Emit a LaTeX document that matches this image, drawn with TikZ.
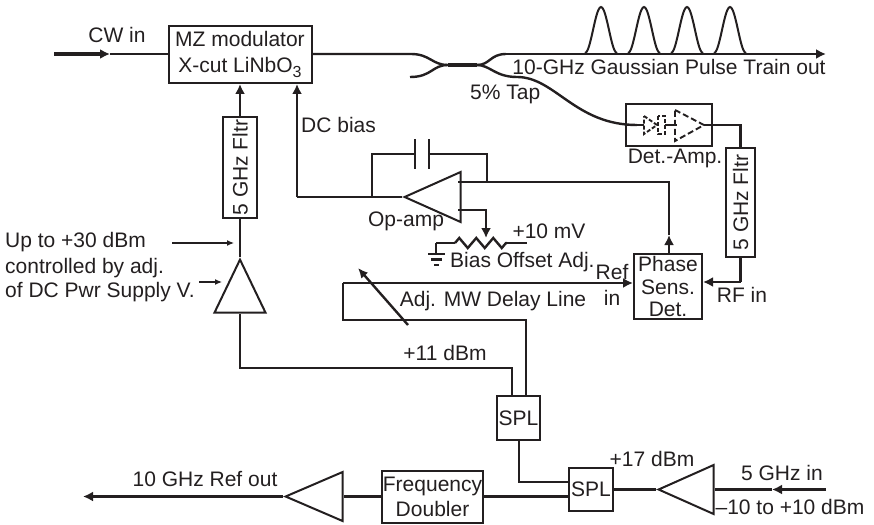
\documentclass[tikz,border=0pt]{standalone}
\usepackage{fontspec}
\setmainfont{Liberation Sans}
\usetikzlibrary{arrows.meta,shapes.geometric,decorations.pathmorphing}
\definecolor{ink}{HTML}{231F20}
\tikzset{
  wire/.style={ink,line width=2.4pt},
  thinwire/.style={ink,line width=1.2pt,-{Latex[length=7pt,width=6pt]}},
  tipwire/.style={wire,-{Latex[length=10pt,width=10pt]}},
  boldwire/.style={wire,line width=3.4pt},
  dashwire/.style={wire,line width=1.9pt,dash pattern=on 4pt off 2pt},
  label/.style={ink,inner sep=0pt,font=\fontsize{21}{22.5}\selectfont,align=center},
  boxnode/.style={label,draw=ink,line width=2pt,fill=white},
  ampnode/.style={draw=ink,line width=2pt,inner sep=0pt,isosceles triangle,isosceles triangle stretches}
}
\begin{document}
\begin{tikzpicture}[x=1pt,y=-1pt]
\useasboundingbox (0,0) rectangle (874,524);

\foreach \peak in {601,644,687,730}
  \draw[wire,line width=2pt] plot[smooth,samples=25,domain=\peak-16:\peak+16] (\x,{53-46*cos(90*(\x-\peak)/16)*cos(90*(\x-\peak)/16)});

\node[boxnode,minimum width=143pt,minimum height=57pt] (mz) at (240,54.5) {MZ modulator\\[3pt]X-cut LiNbO\raisebox{-5pt}{\fontsize{16}{16}\selectfont 3}};
\node[boxnode,rotate=90,minimum width=101pt,minimum height=34pt] (filtA) at (240,167.5) {5 GHz Fltr};
\node[boxnode,rotate=90,minimum width=109pt,minimum height=29pt] (filtB) at (740.5,202.5) {5 GHz Fltr};
\node[boxnode,minimum width=86pt,minimum height=41pt] (detamp) at (669,125) {};
\node[boxnode,minimum width=68pt,minimum height=65pt] (psd) at (668,286.5) {Phase\\Sens.\\Det.};
\node[boxnode,minimum width=43pt,minimum height=44pt] (splA) at (518.5,418) {SPL};
\node[boxnode,minimum width=44pt,minimum height=43pt] (splB) at (591,489.5) {SPL};
\node[boxnode,minimum width=101pt,minimum height=52pt] (doubler) at (432.5,497) {Frequency\\[2pt]Doubler};

\node[ampnode,shape border rotate=90,minimum width=51pt,minimum height=53pt,anchor=apex] (pwramp) at (240,257) {};
\node[ampnode,shape border rotate=180,minimum width=50pt,minimum height=56pt,anchor=apex] (opamp) at (402,197) {};
\node[ampnode,shape border rotate=180,minimum width=49pt,minimum height=57pt,anchor=apex] (refamp) at (283,496.5) {};
\node[ampnode,shape border rotate=180,minimum width=49pt,minimum height=55pt,anchor=apex] (inamp) at (656,489.5) {};

\coordinate (cwin) at (54,54);
\coordinate (cwtip) at (110,54);
\coordinate (mzout) at (411,54);
\coordinate (tapin) at (410,77);
\coordinate (cplA) at (448,65);
\coordinate (cplB) at (477,65);
\coordinate (outA) at (506,54);
\coordinate (outB) at (826,54);
\coordinate (tapA) at (517,77);
\coordinate (detin) at (637,125);
\coordinate (bias) at (297,197);
\coordinate (capA) at (415,154);
\coordinate (capB) at (429,154);
\coordinate (fbA) at (372,197);
\coordinate (fbB) at (487,182);
\coordinate (opout) at (458,182);
\coordinate (opadj) at (458,210);
\coordinate (psdtip) at (669,235);
\coordinate (wiper) at (486,238);
\coordinate (potA) at (436,243);
\coordinate (potB) at (455,243);
\coordinate (potC) at (507,243);
\coordinate (potD) at (527,243);
\coordinate (gnd) at (436,254);
\coordinate (dlyA) at (526,320);
\coordinate (dlyB) at (343,283);
\coordinate (dlyC) at (358,268);
\coordinate (dlyD) at (408,325);
\coordinate (rfin) at (740.5,282);
\coordinate (pwrin) at (512,368);
\coordinate (splbend) at (519,482);
\coordinate (ghzin) at (826,489.5);
\coordinate (ghztip) at (772,489.5);
\coordinate (refout) at (83,496.5);

\draw[boldwire,-{Latex[length=10pt,width=10pt]}] (cwin) -- (cwtip);
\draw[wire] (cwtip) -- (mz.west |- cwtip);
\draw[wire] (mz.east |- mzout) -- (mzout) .. controls (430,54) and (432,65) .. (cplA);
\draw[wire] (tapin) .. controls (432,77) and (432,65) .. (cplA);
\draw[boldwire] (cplA) -- (cplB);
\draw[wire] (cplB) .. controls (490,65) and (490,54) .. (outA);
\draw[tipwire] (outA) -- (outB);
\draw[wire] (cplB) .. controls (490,65) and (495,77) .. (tapA) .. controls (555,77) and (575,125) .. (detin);

\draw[tipwire] (filtA.east) -- (mz.south -| filtA.east);
\draw[wire] (pwramp.apex) -- (filtA.west);
\draw[wire] (opamp.apex) -- (bias);
\draw[tipwire] (bias) -- (bias |- mz.south);
\draw[wire] (fbA) |- (capA);
\draw[wire] (capB) -| (fbB);
\draw[wire] (capA) ++(0,-15) -- ++(0,30);
\draw[wire] (capB) ++(0,-15) -- ++(0,30);
\draw[wire] (opout) -| (psdtip);
\draw[tipwire] (psd.north -| psdtip) -- (psdtip);
\draw[tipwire] (opadj) -| (wiper);
\draw[wire] (potA) -- (potB);
\draw[wire,decorate,decoration={zigzag,segment length=17pt,amplitude=5pt}] (potB) -- (potC);
\draw[wire] (potC) -- (potD);
\draw[wire] (potA) -- (gnd);
\draw[wire] (428,254) -- (445,254);
\draw[wire] (431,259.5) -- (442,259.5);
\draw[wire] (434,265) -- (439,265);

\draw[wire,line width=1.9pt] (detin) -- (644,125);
\draw[dashwire] (644,116) -- (657,125) -- (644,134) -- cycle;
\draw[dashwire] (658,116) rectangle (665,134);
\draw[wire,line width=1.9pt] (665,125) -- (677,125);
\draw[dashwire,dash pattern=on 6pt off 3pt] (675,110) -- (704,125) -- (675,141) -- cycle;
\draw[wire] (704,125) -| (filtB.east);
\draw[wire] (filtB.west) -- (rfin);
\draw[tipwire] (rfin) -- (rfin -| psd.east);

\draw[wire] (splA.north -| dlyA) -- (dlyA) -- (dlyA -| dlyB) -- (dlyB);
\draw[tipwire] (dlyB) -- (dlyB -| psd.west);
\draw[wire,-{Latex[length=10pt,width=9pt]}] (dlyD) -- (dlyC);

\draw[wire] (splA.north -| pwrin) -- (pwrin) -| (pwramp.lower side);
\draw[wire] (splA.south -| splbend) |- (splbend -| splB.west);
\draw[wire] (doubler.east |- refamp.apex) -- (splB.west |- refamp.apex);
\draw[wire] (doubler.west |- refamp.apex) -- (refamp.lower side);
\draw[tipwire] (refamp.apex) -- (refout);
\draw[wire] (inamp.apex) -- (splB.east);
\draw[boldwire,-{Latex[length=10pt,width=10pt]}] (ghzin) -- (ghztip);
\draw[wire] (ghztip) -- (inamp.lower side);

\node[label] (cwlabel) at (117,35) {CW in};
\node[label,anchor=west] (dclabel) at (301,125) {DC bias};
\node[label,anchor=west] (uplabel) at (5,242) {Up to +30 dBm};
\node[label,anchor=west] (ctrllabel) at (5,268) {controlled by adj.};
\node[label,anchor=west] (supplylabel) at (5,292) {of DC Pwr Supply V.};
\node[label] (trainlabel) at (669,67) {10-GHz Gaussian Pulse Train out};
\node[label,anchor=west] (taplabel) at (470,94) {5\% Tap};
\node[label] (detlabel) at (675,158) {Det.-Amp.};
\node[label] (oplabel) at (406,221) {Op-amp};
\node[label] (mvlabel) at (549,231) {+10 mV};
\node[label,anchor=west] (offlabel) at (450,262) {Bias Offset Adj.};
\node[label] (reflabel) at (612,272) {Ref};
\node[label] (inlabel) at (612,298) {in};
\node[label] (rflabel) at (742,295) {RF in};
\node[label] (dlylabel) at (493,301) {Adj. MW Delay Line};
\node[label] (pwrlabel) at (445,353) {+11 dBm};
\node[label] (gainlabel) at (652,459) {+17 dBm};
\node[label] (ghzlabel) at (782,473) {5 GHz in};
\node[label] (rangelabel) at (790,507) {–10 to +10 dBm};
\node[label] (outlabel) at (205,479) {10 GHz Ref out};

\coordinate (upA) at (172,243);
\coordinate (upB) at (234,243);
\coordinate (ctrlA) at (199,282);
\coordinate (ctrlB) at (222,282);
\draw[thinwire] (upA) -- (upB);
\draw[thinwire] (ctrlA) -- (ctrlB);
\end{tikzpicture}
\end{document}
